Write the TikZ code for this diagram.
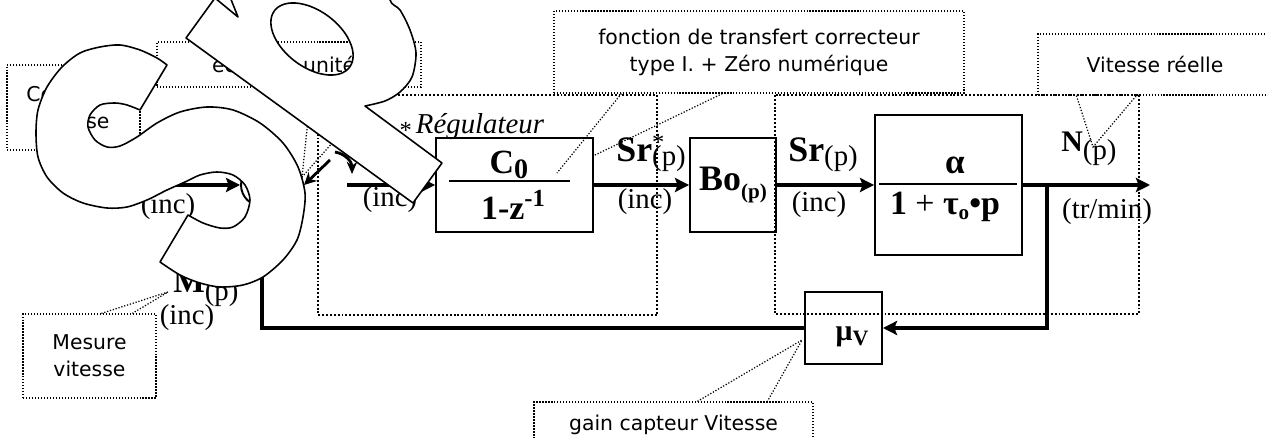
\documentclass[tikz,border=0pt]{standalone}
\usepackage{fontspec}
\setmainfont{Liberation Serif}
\newfontfamily\notefont{DejaVu Sans}
\usetikzlibrary{arrows.meta}

% bold signal name, optional star, subscript (p)
\newcommand\sig[3]{{\fontsize{20.4}{22}\selectfont\bfseries #1}\rlap{\raisebox{6.5pt}{\fontsize{14}{14}\selectfont #2}}\raisebox{-2pt}{#3}}

\begin{document}
\begin{tikzpicture}[x=0.02cm, y=-0.02cm,
  block/.style={draw, line width=1.1pt, fill=white, inner sep=0pt},
  flow/.style={line width=2pt, -{Stealth[length=8pt, width=8pt, inset=1.5pt]}},
  zone/.style={line width=1.1pt, dash pattern=on 1.1pt off 1.1pt},
  note/.style={draw, line width=0.7pt, dash pattern=on 0.7pt off 1pt, inner sep=0pt, align=center, font=\notefont\fontsize{11.6}{15.5}\selectfont},
  lead/.style={line width=0.7pt, dash pattern=on 0.7pt off 1pt},
  txt/.style={inner sep=0pt, font=\fontsize{16.4}{18}\selectfont},
  wmark/.style={draw, line width=0.9pt, fill=white, line join=round}]
\useasboundingbox (0,0) rectangle (1267,438);
\clip (0,0) rectangle (1267,438);

% blocks
\node[block, circle, minimum size=0.84cm] (sum) at (262,185) {};
\node[block, minimum width=3.14cm, minimum height=1.88cm] (corr) at (514.5,185) {};
\node[txt] (corrnum) at (509,165) {\fontsize{19.3}{20}\selectfont\bfseries C\raisebox{-2.5pt}{\fontsize{16}{16}\selectfont 0}};
\node[txt] (corrden) at (513,205) {\fontsize{19.3}{20}\selectfont\bfseries 1-z\raisebox{7pt}{\fontsize{14}{14}\selectfont -1}};
\draw[line width=1.3pt] (corr.west) ++(14,-4) -- ++(121,0);
\node[block, minimum width=1.72cm, minimum height=1.88cm] (bo) at (733,185) {\fontsize{20.4}{20}\selectfont\bfseries Bo\raisebox{-4pt}{\fontsize{12}{12}\selectfont(p)}};
\node[block, minimum width=2.94cm, minimum height=2.8cm] (proc) at (948.5,185) {};
\node[txt] (procnum) at (955,165) {\fontsize{20}{20}\selectfont\bfseries α};
\node[txt] (procden) at (945,207) {\fontsize{19.3}{20}\selectfont\textbf{1} + \textbf{τ}\raisebox{-3pt}{\fontsize{12}{12}\selectfont\bfseries o}\textbf{•p}};
\draw[line width=1.3pt] (proc.west) ++(5,-1) -- ++(138,0);
\node[block, minimum width=1.54cm, minimum height=1.44cm] (capt) at (843.5,328) {};
\node[txt] (captlab) at (852,337) {\fontsize{17}{17}\selectfont\bfseries μ\raisebox{-3pt}{\fontsize{12.5}{12}\selectfont V}};

% signal path
\coordinate (in) at (150,185);
\coordinate (sw0) at (304,185);
\coordinate (sw1) at (330,160);
\coordinate (sw2) at (347,185);
\coordinate (rot0) at (335,152);
\coordinate (rot1) at (352,174);
\coordinate (br) at (1047,185);
\coordinate (out) at (1150,185);
\draw[flow] (in) -- (sum.west);
\draw[line width=2pt] (sum.east) -- (sw0);
\draw[line width=1.6pt, {Stealth[length=7pt, width=7pt]}-] (sw0) -- (sw1);
\draw[line width=1.6pt, -{Stealth[length=7pt, width=6pt]}] (rot0) .. controls (346,154) and (352,162) .. (rot1);
\draw[flow] (sw2) -- (corr.west);
\draw[flow] (corr.east) -- (bo.west);
\draw[flow] (bo.east) -- (proc.west);
\draw[flow] (proc.east) -- (out);
\draw[flow] (br) |- (capt.east);
\draw[flow] (capt.west) -| (sum.south);

% signal names
\node[txt] (linc0) at (168,207) {(inc)};
\node[txt, anchor=base west] (leps) at (384,150) {\sig{ε}{*}{}};
\node[txt] (linc1) at (390,200) {(inc)};
\node[txt, anchor=base west] (lsr1) at (616,162) {\sig{Sr}{*}{(p)}};
\node[txt] (linc2) at (645,202) {(inc)};
\node[txt, anchor=base west] (lsr2) at (788,162) {\sig{Sr}{}{(p)}};
\node[txt] (linc3) at (819,205) {(inc)};
\node[txt, anchor=base west] (ln) at (1061,152) {{\fontsize{17}{17}\selectfont\bfseries N}\raisebox{-4.5pt}{(p)}};
\node[txt] (lunit) at (1107,212) {(tr/min)};
\node[txt, anchor=base west] (lm) at (173,293) {{\fontsize{19}{19}\selectfont\bfseries M}\raisebox{-4pt}{(p)}};
\node[txt] (linc4) at (187,318) {(inc)};
\node[txt, font=\fontsize{16.4}{18}\selectfont\itshape] (lreg) at (480,127) {Régulateur};

% zones
\draw[zone] (318,95) rectangle (657,315);
\draw[zone] (775,95) rectangle (1139,314);

% notes
\node[note, minimum width=2.66cm, minimum height=1.7cm] (cons) at (73.5,107.5) {Consigne\\vitesse};
\node[note, minimum width=5.28cm, minimum height=0.9cm] (ecart) at (289,64.5) {écart en unités};
\node[note, minimum width=8.2cm, minimum height=1.64cm] (fct) at (759,52) {fonction de transfert correcteur\\type I. + Zéro numérique};
\node[note, minimum width=4.68cm, minimum height=1.22cm] (vit) at (1155,64.5) {Vitesse réelle};
\node[note, minimum width=2.66cm, minimum height=1.68cm] (mes) at (89.5,356) {Mesure\\vitesse};
\node[note, minimum width=5.58cm, minimum height=0.92cm] (gain) at (673.5,425) {gain capteur Vitesse};
\coordinate (ecarttip) at (302,177);
\coordinate (fcttip) at (557,173);
\coordinate (fctend) at (593,156);
\coordinate (vittip) at (1093,147);
\coordinate (mestip) at (168,292);
\coordinate (gaintip) at (802,340);
\draw[lead] ([xshift=3.1cm]ecart.south west) -- (ecarttip) -- ([xshift=4.5cm]ecart.south west);
\draw[lead] ([xshift=1.36cm]fct.south west) -- (fcttip);
\draw[lead] ([xshift=3.38cm]fct.south west) -- (fctend);
\draw[lead] ([xshift=0.78cm]vit.south west) -- (vittip) -- ([xshift=1.98cm]vit.south west);
\draw[lead] ([xshift=1.58cm]mes.north west) -- (mestip) -- ([xshift=2.2cm]mes.north west);
\draw[lead] ([xshift=3.28cm]gain.north west) -- (gaintip) -- ([xshift=4.68cm]gain.north west);

% overprinted S
\draw[wmark] plot[smooth, tension=0.5] coordinates {(167,65) (157,58) (140,50) (120,45) (100,47) (80,53) (62,67) (47,87) (38,110) (36,133) (38,157) (47,177) (63,193) (83,203) (107,208) (127,207) (147,200) (167,190) (185,182) (200,175) (217,172) (233,175) (245,185) (250,200) (245,217) (233,227) (220,228) (203,223) (188,215)}
  -- plot[smooth, tension=0.5] coordinates {(160,262) (180,275) (200,283) (220,287) (243,285) (263,277) (283,260) (297,240) (303,217) (305,193) (298,167) (283,143) (260,123) (233,110) (207,107) (180,112) (157,123) (137,137) (120,146) (107,147) (95,140) (88,127) (90,115) (100,105) (115,103) (127,105) (140,110)}
  -- cycle;
% overprinted P
\draw[wmark, even odd rule] plot[smooth, tension=0.5] coordinates {(390,-30) (390,0) (400,10) (410,30) (416,53) (412,77) (400,92) (385,101) (365,106)}
  -- (442,163) -- (413,203) -- (186,38) -- (215,-2) -- (238,17) -- (230,-3) -- (250,-40) -- cycle
  plot[domain=0:360, samples=61, smooth] ({312+47*cos(\x)*cos(37)-28*sin(\x)*sin(37)}, {39+47*cos(\x)*sin(37)+28*sin(\x)*cos(37)}) -- cycle;
\end{tikzpicture}
\end{document}
